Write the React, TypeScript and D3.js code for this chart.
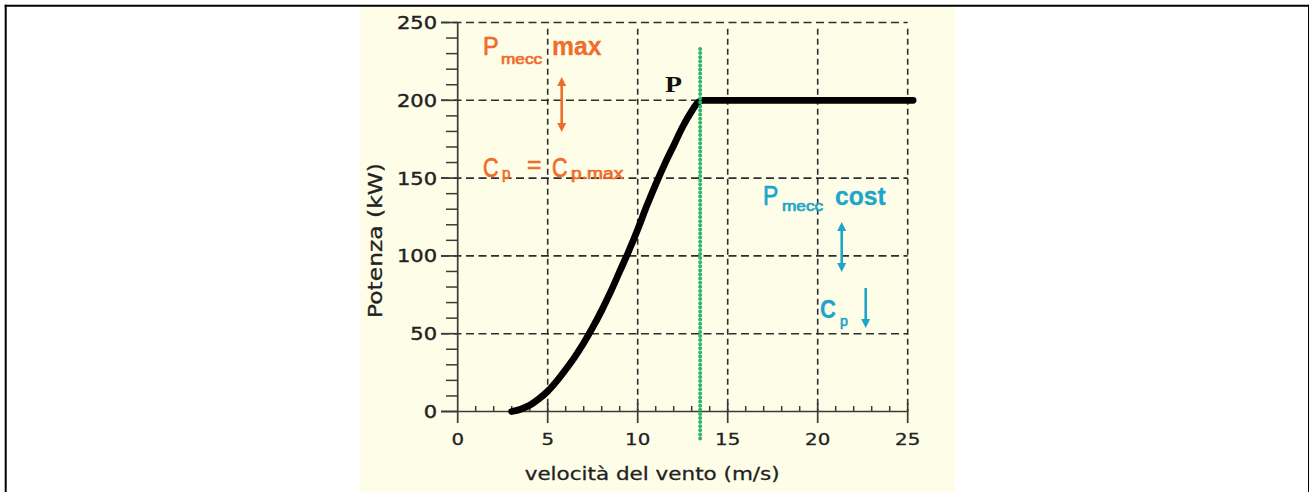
import React from "react";
import * as d3 from "d3";

const windSpeed = [3, 3.5, 4, 4.5, 5, 5.5, 6, 6.5, 7, 7.5, 8, 8.5, 9, 9.5, 10, 10.5, 11, 11.5, 12, 12.5, 13, 13.3, 13.6, 14, 25.3];
const power = [0, 1.5, 4, 8, 13, 19.5, 27, 35, 44, 54, 65, 77, 90, 103, 117, 132, 146, 159, 171, 183, 193, 198, 200, 200, 200];
const xTicks = [0, 5, 10, 15, 20, 25];
const yTicks = [0, 50, 100, 150, 200, 250];
const ratedSpeed = 13.47;

const ORANGE = "#ef6d2b";
const CYAN = "#1ea5ca";
const GRID = "#2e2e2e";
const AXIS = "#3a3a3a";
const SANS = "'DejaVu Sans', Verdana, sans-serif";
const ARIAL = "'Liberation Sans', Arial, sans-serif";

function Arrow({ x, y1, y2, color, both }: { x: number; y1: number; y2: number; color: string; both: boolean }) {
  const hl = 9, hw = 4.5;
  return (
    <g>
      <line x1={x} x2={x} y1={both ? y1 + hl - 1 : y1} y2={y2 - hl + 1} stroke={color} strokeWidth={2.6} />
      {both && <polygon points={`${x},${y1} ${x - hw},${y1 + hl} ${x + hw},${y1 + hl}`} fill={color} />}
      <polygon points={`${x},${y2} ${x - hw},${y2 - hl} ${x + hw},${y2 - hl}`} fill={color} />
    </g>
  );
}

function Glyph({ x, y, s, size, sx, bold, color }: { x: number; y: number; s: string; size: number; sx: number; bold?: boolean; color: string }) {
  return (
    <text
      transform={`translate(${x},${y}) scale(${sx},1)`}
      fontFamily={ARIAL}
      fontSize={size}
      fontWeight={bold ? "bold" : "normal"}
      fill={color}
      stroke={color}
      strokeWidth={bold ? 0.3 : 0.7}
    >
      {s}
    </text>
  );
}

export default function App() {
  const x = d3.scaleLinear().domain([0, 25]).range([457.7, 907.7]);
  const y = d3.scaleLinear().domain([0, 250]).range([411.5, 22.5]);
  const pts = windSpeed.map((v, i) => [v, power[i]] as [number, number]);
  const line = d3
    .line<[number, number]>()
    .x((d) => x(d[0]))
    .y((d) => y(d[1]))
    .curve(d3.curveMonotoneX);

  const minorX = d3.range(0, 26, 1).filter((v) => v % 5 !== 0);
  const minorY = d3.range(0, 251, 10).filter((v) => v % 50 !== 0);

  return (
    <svg
      width={1310}
      height={492}
      style={{ position: "absolute", left: 0, top: 0 }}
      xmlns="http://www.w3.org/2000/svg"
    >
      <rect x={0} y={0} width={1310} height={492} fill="#ffffff" />
      <rect x={360} y={7} width={595} height={490} fill="#fefee8" />
      {/* border */}
      <line x1={4.7} x2={1309} y1={5.7} y2={5.7} stroke="#000" strokeWidth={2} />
      <line x1={5.7} x2={5.7} y1={4.7} y2={492} stroke="#000" strokeWidth={2} />
      <line x1={1308.5} x2={1308.5} y1={4.7} y2={492} stroke="#000" strokeWidth={1} />

      {/* horizontal grid */}
      {yTicks.filter((t) => t > 0).map((t) => (
        <line key={"hg" + t} x1={441} x2={x(25)} y1={y(t)} y2={y(t)} stroke={GRID} strokeWidth={1.6} strokeDasharray="8 4.5" />
      ))}
      {/* vertical grid */}
      {xTicks.filter((t) => t > 0).map((t) => (
        <line key={"vg" + t} x1={x(t)} x2={x(t)} y1={y(246)} y2={y(0)} stroke={GRID} strokeWidth={1.6} strokeDasharray="6 4" />
      ))}

      {/* axes */}
      <line x1={x(0)} x2={x(0)} y1={y(250)} y2={423} stroke={AXIS} strokeWidth={1.7} />
      <line x1={441} x2={x(25)} y1={y(0)} y2={y(0)} stroke={AXIS} strokeWidth={1.7} />
      {yTicks.map((t) => (
        <line key={"yt" + t} x1={441} x2={x(0)} y1={y(t)} y2={y(t)} stroke={AXIS} strokeWidth={1.7} />
      ))}
      {minorY.map((t) => (
        <line key={"ym" + t} x1={446} x2={x(0)} y1={y(t)} y2={y(t)} stroke={AXIS} strokeWidth={1.5} />
      ))}
      {xTicks.filter((t) => t > 0).map((t) => (
        <line key={"xt" + t} x1={x(t)} x2={x(t)} y1={403} y2={423} stroke={AXIS} strokeWidth={1.7} />
      ))}
      {minorX.map((t) => (
        <line key={"xm" + t} x1={x(t)} x2={x(t)} y1={406} y2={y(0)} stroke={AXIS} strokeWidth={1.5} />
      ))}

      {/* tick labels */}
      {yTicks.map((t) => (
        <g key={"yl" + t} transform={`translate(437,${y(t) + 6.5}) scale(1.2,1)`}>
          <text textAnchor="end" fontFamily={SANS} fontSize={17.5} fill="#222" stroke="#222" strokeWidth={0.4}>{t}</text>
        </g>
      ))}
      {xTicks.map((t) => (
        <g key={"xl" + t} transform={`translate(${x(t)},445) scale(1.2,1)`}>
          <text textAnchor="middle" fontFamily={SANS} fontSize={16.5} fill="#222" stroke="#222" strokeWidth={0.3}>{t}</text>
        </g>
      ))}

      {/* axis titles */}
      <text x={x(0) + 67} y={480} fontFamily={SANS} fontSize={18.5} fill="#222" stroke="#222" strokeWidth={0.3} textLength={255} lengthAdjust="spacingAndGlyphs">
        velocità del vento (m/s)
      </text>
      <text
        transform={`translate(382,${240.5}) rotate(-90)`}
        textAnchor="middle"
        fontFamily={SANS}
        fontSize={19}
        fill="#222"
        stroke="#222"
        strokeWidth={0.3}
        textLength={155}
        lengthAdjust="spacingAndGlyphs"
      >
        Potenza (kW)
      </text>

      {/* power curve */}
      <path d={line(pts) || ""} fill="none" stroke="#000" strokeWidth={6.8} strokeLinecap="round" strokeLinejoin="round" />

      {/* rated speed dotted line */}
      <line x1={x(ratedSpeed)} x2={x(ratedSpeed)} y1={49} y2={440} stroke="#2fb56c" strokeWidth={4} strokeDasharray="0 4.1" strokeLinecap="round" />

      {/* P label */}
      <text x={665} y={92} fontFamily="'Liberation Serif', 'Times New Roman', serif" fontSize={24} fontWeight="bold" fill="#111" textLength={17} lengthAdjust="spacingAndGlyphs">P</text>

      {/* orange annotation */}
      <Glyph x={483} y={55} s="P" size={26} sx={0.9} color={ORANGE} />
      <Glyph x={501} y={64} s="mecc" size={15} sx={1.15} color={ORANGE} />
      <Glyph x={552} y={55} s="max" size={26} sx={0.95} bold color={ORANGE} />
      <Glyph x={483} y={177} s="C" size={27} sx={0.8} color={ORANGE} />
      <Glyph x={502} y={179} s="p" size={16} sx={0.95} color={ORANGE} />
      <Glyph x={527} y={173} s="=" size={26} sx={0.95} color={ORANGE} />
      <Glyph x={552} y={177} s="C" size={27} sx={0.8} color={ORANGE} />
      <Glyph x={571} y={179} s="p.max" size={16} sx={1.2} color={ORANGE} />
      <Arrow x={561.7} y1={77} y2={132} color={ORANGE} both={true} />

      {/* cyan annotation */}
      <Glyph x={763} y={205} s="P" size={27} sx={0.85} color={CYAN} />
      <Glyph x={782} y={211} s="mecc" size={15} sx={1.15} color={CYAN} />
      <Glyph x={835} y={205} s="cost" size={26} sx={0.95} bold color={CYAN} />
      <Glyph x={820} y={318} s="C" size={26} sx={0.85} bold color={CYAN} />
      <Glyph x={840} y={326} s="p" size={15} sx={0.95} color={CYAN} />
      <Arrow x={841.7} y1={222} y2={272} color={CYAN} both={true} />
      <Arrow x={865.7} y1={288} y2={328} color={CYAN} both={false} />
    </svg>
  );
}
